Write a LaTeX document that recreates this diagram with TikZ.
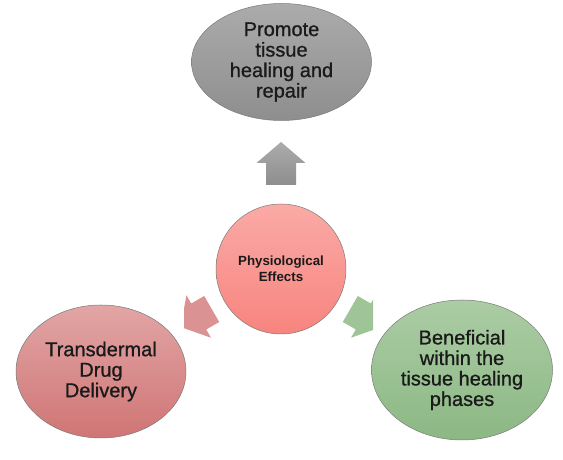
\documentclass[tikz,border=0pt]{standalone}
\usepackage{fontspec}
\setmainfont{Liberation Sans}
\newfontfamily\heavyfont[FakeBold=0.9]{Liberation Sans}
\usetikzlibrary{calc,shapes.geometric}
\definecolor{Ink}{HTML}{1A1A1A}
\definecolor{Rim}{HTML}{7A7A7A}
\definecolor{GrayTop}{HTML}{ABABAB}
\definecolor{GrayBot}{HTML}{8E8E8E}
\definecolor{PinkTop}{HTML}{FBAAA6}
\definecolor{PinkBot}{HTML}{F7847E}
\definecolor{RoseTop}{HTML}{E2A5A5}
\definecolor{RoseBot}{HTML}{D07575}
\definecolor{SageTop}{HTML}{ABCCA4}
\definecolor{SageBot}{HTML}{8CB884}

\begin{document}
\begin{tikzpicture}[x=1pt,y=1pt,
    every node/.style={font=\heavyfont\fontsize{20}{20.5}\selectfont,align=center,text=Ink},
    bubble/.style={ellipse,draw=Rim,line width=0.5pt,inner sep=0pt}]
  \useasboundingbox (0,0) rectangle (563,460);

  % hub and the three outcomes
  \node[circle,draw=Rim,line width=0.5pt,inner sep=0pt,minimum size=130pt,
        top color=PinkTop,bottom color=PinkBot,
        font=\rmfamily\fontsize{13.3}{16}\selectfont\bfseries] (effects) at (281,191) {Physiological\\Effects};
  \node[bubble,top color=GrayTop,bottom color=GrayBot,minimum width=180pt,minimum height=117pt]
    (promote) at (281.5,398) {Promote\\tissue\\healing and\\repair};
  \node[bubble,top color=RoseTop,bottom color=RoseBot,minimum width=170pt,minimum height=133pt]
    (drug) at (101,88.5) {Transdermal\\Drug\\Delivery};
  \node[bubble,top color=SageTop,bottom color=SageBot,minimum width=181pt,minimum height=140pt]
    (phases) at (462,90) {Beneficial\\within the\\tissue healing\\phases};

  % block arrows
  \coordinate (uptail) at ($(effects.center)+(0,84)$);
  \coordinate (lefttail) at ($(effects.center)+(210:80)$);
  \coordinate (righttail) at ($(effects.center)+(330:80)$);

  \shade[shift={(uptail)},top color=GrayTop,bottom color=GrayBot]
    (-15,0) -- (-15,22) -- (-24.5,22) -- (0,43) -- (24.5,22) -- (15,22) -- (15,0) -- cycle;
  \begin{scope}
    \clip (184,0) rectangle (563,460);
    \fill[shift={(lefttail)},rotate=210,RoseTop!60!RoseBot]
      (0,-15) -- (15,-15) -- (15,-24.5) -- (36,0) -- (15,24.5) -- (15,15) -- (0,15) -- cycle;
  \end{scope}
  \begin{scope}
    \clip (0,0) rectangle (373,460);
    \fill[shift={(righttail)},rotate=330,SageTop!60!SageBot]
      (0,-15) -- (15,-15) -- (15,-24.5) -- (36,0) -- (15,24.5) -- (15,15) -- (0,15) -- cycle;
  \end{scope}
\end{tikzpicture}
\end{document}
